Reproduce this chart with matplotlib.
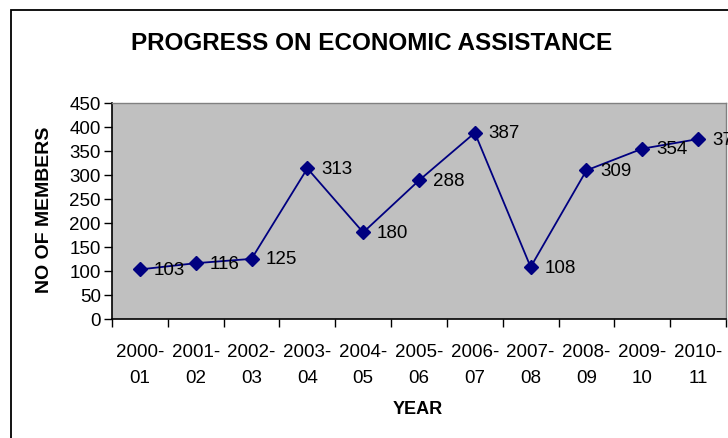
import matplotlib
matplotlib.use('Agg')
import matplotlib.pyplot as plt
from matplotlib.patches import Rectangle

# Dados
anos = ['2000-\n01', '2001-\n02', '2002-\n03', '2003-\n04', '2004-\n05', '2005-\n06',
        '2006-\n07', '2007-\n08', '2008-\n09', '2009-\n10', '2010-\n11']
membros = [103, 116, 125, 313, 180, 288, 387, 108, 309, 354, 374]

titulo = 'PROGRESS ON ECONOMIC ASSISTANCE'
rotulo_x = 'YEAR'
rotulo_y = 'NO OF MEMBERS'

plt.rcParams['font.family'] = ['Liberation Sans', 'DejaVu Sans']

W, H = 728, 439
fig = plt.figure(figsize=(W / 100, H / 100), dpi=100)

# moldura externa (cortada à direita e embaixo)
fig.patches.append(Rectangle((11 / W, -0.05), 1.2, 1 - 11 / H + 0.05, transform=fig.transFigure,
                             fill=False, edgecolor='black', linewidth=1.3))

ax = fig.add_axes([112 / W, 1 - 320 / H, (726 - 112) / W, (320 - 103.5) / H])
ax.set_facecolor('#C0C0C0')

x = list(range(len(anos)))
ax.plot(x, membros, color='#000080', linewidth=1.3, marker='D', markersize=7,
        markerfacecolor='#000080', markeredgecolor='#000080')
for xi, v in zip(x, membros):
    ax.annotate(str(v), (xi, v), xytext=(10, 0), textcoords='offset points',
                va='center', ha='left', fontsize=13.5, annotation_clip=False)

ax.set_xlim(-0.5, len(anos) - 0.5)
ax.set_ylim(0, 450)
ax.set_yticks(range(0, 451, 50))
ax.set_xticks([i - 0.5 for i in range(len(anos) + 1)])
ax.set_xticklabels([])
ax.set_xticks(x, minor=True)
ax.set_xticklabels(anos, minor=True, fontsize=13.5, linespacing=1.7)
ax.tick_params(axis='x', which='minor', length=0, pad=17)
ax.tick_params(axis='x', which='major', length=6, width=1, direction='out')
ax.tick_params(axis='y', length=6, width=1, direction='out', labelsize=13.5, pad=2)

for lado in ['top', 'right']:
    ax.spines[lado].set_color('#808080')
    ax.spines[lado].set_linewidth(1)
for lado in ['left', 'bottom']:
    ax.spines[lado].set_color('black')
    ax.spines[lado].set_linewidth(1.2)

fig.text(372 / W, 1 - 44 / H, titulo, ha='center', va='center', fontsize=17.5, fontweight='bold')
fig.text(418 / W, 1 - 410 / H, rotulo_x, ha='center', va='center', fontsize=13, fontweight='bold')
fig.text(45 / W, 1 - 210 / H, rotulo_y, ha='center', va='center', rotation=90,
         fontsize=14, fontweight='bold')

fig.savefig('out.png', dpi=100)
